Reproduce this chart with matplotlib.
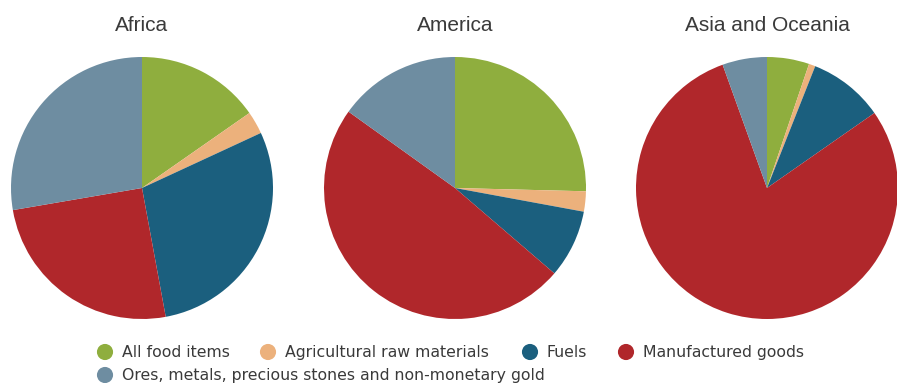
import matplotlib
matplotlib.use("Agg")
import matplotlib.pyplot as plt

plt.rcParams['font.family'] = ['Liberation Sans', 'DejaVu Sans']

regions = ["Africa", "America", "Asia and Oceania"]
categories = ["All food items", "Agricultural raw materials", "Fuels",
              "Manufactured goods", "Ores, metals, precious stones and non-monetary gold"]
africa = [15.3, 2.8, 29.0, 25.2, 27.7]
america = [25.4, 2.5, 8.4, 48.6, 15.1]
asia_oceania = [5.2, 0.8, 9.3, 79.2, 5.5]
colors = ["#8fae3e", "#ecb17c", "#1b5f7e", "#b0272b", "#6e8da1"]

W, H = 897, 383
fig = plt.figure(figsize=(W / 100, H / 100), dpi=100)

centers_x = [142, 455, 767]
center_y = 188
radius_px = 131

for name, values, cx in zip(regions, [africa, america, asia_oceania], centers_x):
    ax = fig.add_axes([(cx - radius_px) / W, (H - center_y - radius_px) / H,
                       2 * radius_px / W, 2 * radius_px / H])
    ax.pie(values, colors=colors, startangle=90, counterclock=False,
           radius=1.0, wedgeprops=dict(linewidth=0))
    ax.set_xlim(-1, 1)
    ax.set_ylim(-1, 1)
    ax.set_axis_off()
    fig.text(cx / W, 1 - 31 / H, name, ha="center", va="baseline",
             fontsize=15, color="#3a3a3a")

# legend: two rows of circle markers with labels
leg = fig.add_axes([0, 0, 1, 1], facecolor="none")
leg.set_xlim(0, W)
leg.set_ylim(H, 0)
leg.set_axis_off()
entries = [(105, 352), (268, 352), (530, 352), (626, 352), (105, 375)]
for (x, y), label, c in zip(entries, categories, colors):
    leg.scatter([x], [y], s=135, color=c, edgecolors="none")
    leg.text(x + 17, y + 5, label, ha="left", va="baseline",
             fontsize=11.3, color="#3a3a3a",
             family=["DejaVu Sans"])

fig.savefig("out.png", dpi=100)
